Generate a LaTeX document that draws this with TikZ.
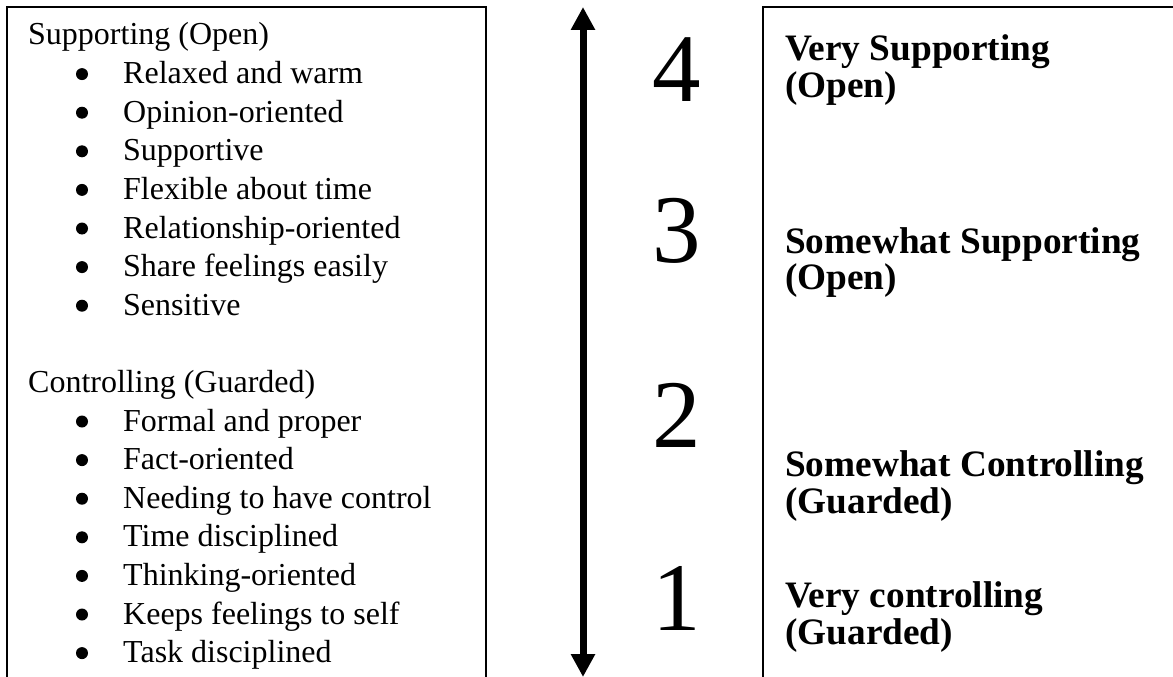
\documentclass[tikz,border=0pt]{standalone}
\usepackage{fontspec}
\setmainfont{Liberation Serif}
\usetikzlibrary{arrows.meta}
\begin{document}
\begin{tikzpicture}[x=1pt,y=-1pt,
  frame/.style={line width=2pt},
  head/.style={anchor=base west, inner sep=0pt, font=\fontsize{32}{38}\selectfont},
  item/.style={anchor=base west, inner sep=0pt, font=\fontsize{32}{38}\selectfont},
  dot/.style={circle, fill=black, inner sep=0pt, minimum size=12pt},
  level/.style={anchor=base west, inner sep=0pt, font=\fontsize{37.3}{44}\selectfont\bfseries},
  digit/.style={anchor=base, inner sep=0pt, font=\fontsize{97}{110}\selectfont},
  scale arrow/.style={line width=7pt, {Triangle[width=23pt,length=23pt]}-{Triangle[width=23pt,length=23pt]}}]
\useasboundingbox (0,0) rectangle (1173,677);
% frames
\draw[frame] (7,677) -- (7,7) -- (486,7) -- (486,677);
\draw[frame] (763,677) -- (763,7) -- (1173,7);
% left list
\node[head] (hs) at (28,45) {Supporting (Open)};
\foreach \t [count=\i] in {Relaxed and warm,Opinion-oriented,Supportive,Flexible about time,Relationship-oriented,Share feelings easily,Sensitive}{
  \node[item] (s\i) at (123,{45+38.6*\i}) {\t};
  \node[dot] (sb\i) at (82,{45+38.6*\i-9.5}) {};
}
\node[head] (hc) at (28,392.4) {Controlling (Guarded)};
\foreach \t [count=\i] in {Formal and proper,Fact-oriented,Needing to have control,Time disciplined,Thinking-oriented,Keeps feelings to self,Task disciplined}{
  \node[item] (c\i) at (123,{392.4+38.6*\i}) {\t};
  \node[dot] (cb\i) at (82,{392.4+38.6*\i-9.5}) {};
}
% scale arrow
\coordinate (atop) at (583,7);
\coordinate (abot) at (583,677);
\draw[scale arrow] (atop) -- (abot);
% digits
\node[digit] (d4) at (677,102) {4};
\node[digit] (d3) at (677,262) {3};
\node[digit] (d2) at (677,447) {2};
\node[digit] (d1) at (677,630) {1};
% levels
\node[level] (l4a) at (785,61) {Very Supporting};
\node[level] (l4b) at (785,98) {(Open)};
\node[level] (l3a) at (785,253) {Somewhat Supporting};
\node[level] (l3b) at (785,289) {(Open)};
\node[level] (l2a) at (785,476) {Somewhat Controlling};
\node[level] (l2b) at (785,513) {(Guarded)};
\node[level] (l1a) at (785,607) {Very controlling};
\node[level] (l1b) at (785,644) {(Guarded)};
\end{tikzpicture}
\end{document}
